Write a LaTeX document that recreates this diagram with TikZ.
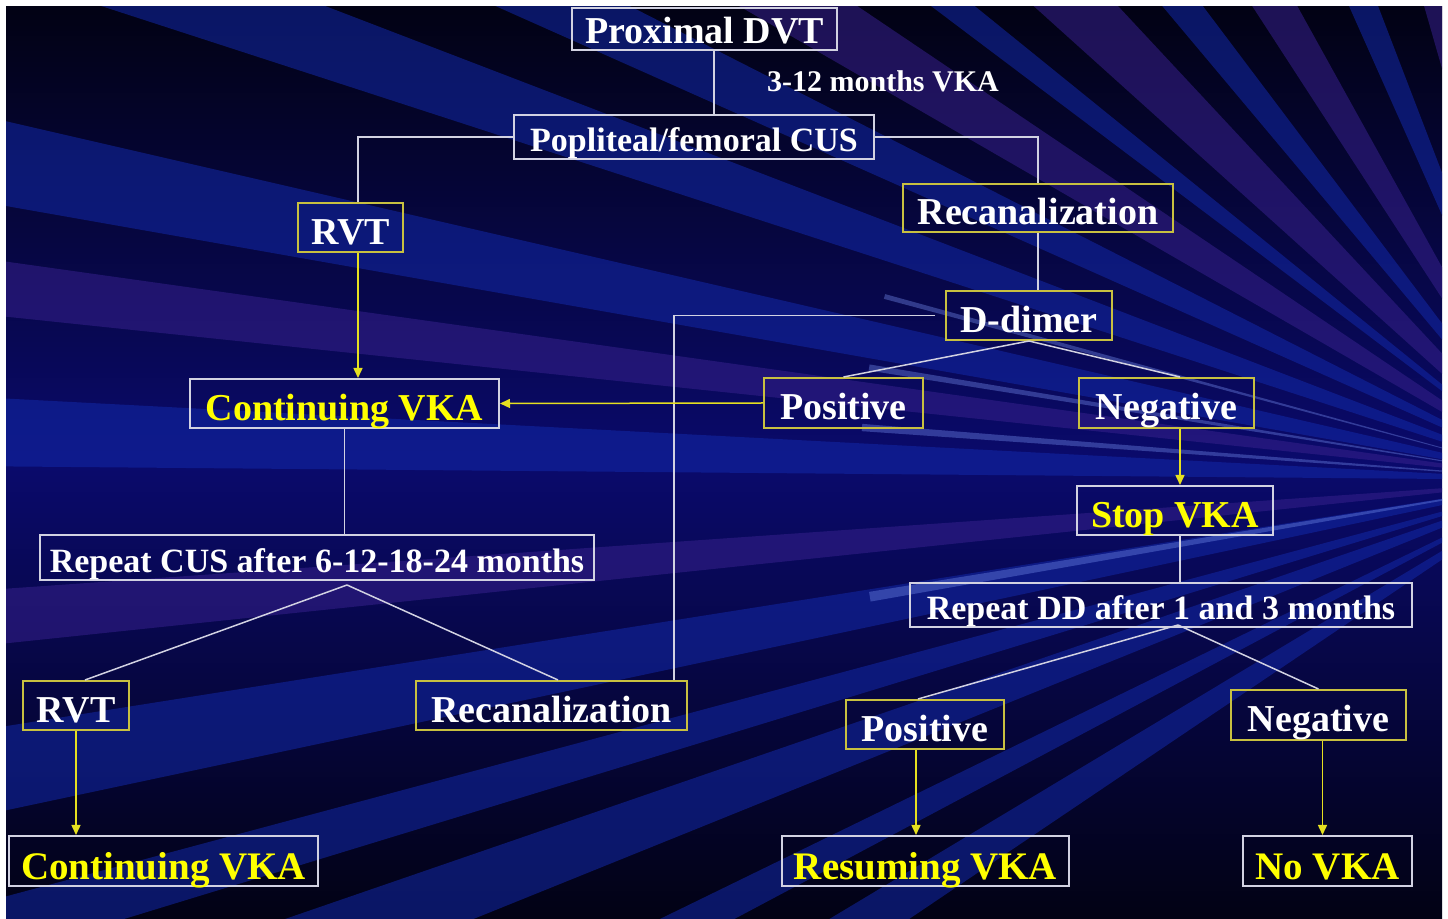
\documentclass[tikz,border=0pt]{standalone}
\usepackage{fontspec}
\setmainfont{Liberation Serif}
\usetikzlibrary{arrows.meta}

\definecolor{bgdark}{HTML}{020214}
\definecolor{bgmid}{HTML}{0A0A6C}
\definecolor{raysblue}{HTML}{1228A8}
\definecolor{rayspurple}{HTML}{36208C}
\definecolor{rayslight}{HTML}{7088E8}
\definecolor{boxwhite}{HTML}{D2D2E2}
\definecolor{boxyellow}{HTML}{C8C040}
\definecolor{txtyellow}{HTML}{FFFF00}
\definecolor{arryellow}{HTML}{E6E020}

\begin{document}
\begin{tikzpicture}[x=0.5pt,y=-0.5pt,
  wbox/.style={draw=boxwhite,line width=1pt,inner sep=0pt,text=white,
    text height=17pt,text depth=0pt,font=\bfseries\fontsize{19}{22}\selectfont},
  ybox/.style={wbox,draw=boxyellow},
  smalltext/.style={text height=15pt,font=\bfseries\fontsize{17}{20}\selectfont},
  lowrow/.style={text height=18pt,font=\bfseries\fontsize{19.5}{22}\selectfont},
  yellowtext/.style={text=txtyellow},
  wline/.style={draw=boxwhite,line width=0.75pt},
  yarrow/.style={draw=arryellow,line width=0.75pt,-{Triangle[length=5pt,width=4.5pt]}}]
\path[use as bounding box] (0,0) rectangle (1448,919);
\fill[white] (0,0) rectangle (1448,919);
% background with rays
\shade[top color=bgdark,bottom color=bgdark,middle color=bgmid] (6,7) rectangle (1442,919);
\begin{scope}
\clip (6,7) rectangle (1442,919);
\begin{scope}[shift={(1560,480)}]
\foreach \a/\b/\c in {198/201/raysblue,204/207/raysblue,210/214/rayspurple,
    217/219/raysblue,222/227/rayspurple,230/233/raysblue,237/241/rayspurple,
    246/249/raysblue,254/260/rayspurple,190/193/raysblue,186/188/rayspurple,
    180.5/183/raysblue,174/176/rayspurple,168/171/raysblue,163/165/raysblue,
    158/161/raysblue,152/154/raysblue,146/149/raysblue}
  \fill[\c,fill opacity=0.55] (0,0) -- (\a:2200) -- (\b:2200) -- cycle;
\foreach \a/\b in {184/184.6,189/189.5,170/170.8,195/195.4}
  \fill[rayslight,fill opacity=0.4] (0,0) -- (\a:700) -- (\b:700) -- cycle;
\end{scope}
\end{scope}

% boxes
\node[wbox,text height=15pt,minimum width=132.5pt,minimum height=21pt] (dvt) at (704.5,29) {Proximal DVT};
\node[text=white,font=\bfseries\fontsize{15}{18}\selectfont] (months) at (883,81) {3-12 months VKA};
\node[wbox,smalltext,minimum width=180pt,minimum height=22pt] (cus) at (694,137) {Popliteal/femoral CUS};
\node[ybox,minimum width=52.5pt,minimum height=24.5pt] (rvtA) at (350.5,227.5) {RVT};
\node[ybox,minimum width=135pt,minimum height=24pt] (recA) at (1038,208) {Recanalization};
\node[ybox,minimum width=83pt,minimum height=24.5pt] (dd) at (1029,315.5) {D-dimer};
\node[wbox,yellowtext,minimum width=154.5pt,minimum height=24.5pt] (contA) at (344.5,403.5) {Continuing VKA};
\node[ybox,minimum width=79.5pt,minimum height=25pt] (posA) at (843.5,403) {Positive};
\node[ybox,minimum width=87.5pt,minimum height=25pt] (negA) at (1166.5,403) {Negative};
\node[wbox,yellowtext,minimum width=98pt,minimum height=24.5pt] (stop) at (1175,510.5) {Stop VKA};
\node[wbox,smalltext,minimum width=277pt,minimum height=22.5pt] (rcus) at (317,557.5) {Repeat CUS after 6-12-18-24 months};
\node[wbox,smalltext,minimum width=251pt,minimum height=22pt] (rdd) at (1161,605) {Repeat DD after 1 and 3 months};
\node[ybox,minimum width=53pt,minimum height=24.5pt] (rvtB) at (76,705.5) {RVT};
\node[ybox,minimum width=135.5pt,minimum height=24.5pt] (recB) at (551.5,705.5) {Recanalization};
\node[ybox,minimum width=79pt,minimum height=24.5pt] (posB) at (925,724.5) {Positive};
\node[ybox,minimum width=87.5pt,minimum height=25pt] (negB) at (1318.5,715) {Negative};
\node[wbox,lowrow,yellowtext,minimum width=154.5pt,minimum height=25pt] (contB) at (163.5,861) {Continuing VKA};
\node[wbox,lowrow,yellowtext,minimum width=143.5pt,minimum height=25pt] (res) at (925.5,861) {Resuming VKA};
\node[wbox,lowrow,yellowtext,minimum width=84.5pt,minimum height=25pt] (novka) at (1327.5,861) {No VKA};

% forks
\coordinate (cusfork) at ([xshift=15pt,yshift=-2pt]rcus.south);
\coordinate (ddfork) at ([xshift=8.5pt,yshift=1.5pt]rdd.south);

% white connectors
\draw[wline] ([xshift=4.75pt]dvt.south) -- ([xshift=4.75pt]dvt.south |- cus.north);
\draw[wline] (cus.west) -| ([xshift=3.75pt]rvtA.north);
\draw[wline] (cus.east) -| (recA.north);
\draw[wline] (recA.south) -- (recA.south |- dd.north);
\draw[wline] ([xshift=-5pt]dd.west) -| ([xshift=-7pt]recB.north east);
\draw[wline] (dd.south) -- (posA.north);
\draw[wline] (dd.south) -- ([xshift=6.75pt]negA.north);
\draw[wline] (contA.south) -- (contA.south |- rcus.north);
\draw[wline] (cusfork) -- ([xshift=4.5pt]rvtB.north);
\draw[wline] (cusfork) -- ([xshift=3.25pt]recB.north);
\draw[wline] ([xshift=2.5pt]stop.south) -- ([xshift=2.5pt]stop.south |- rdd.north);
\draw[wline] (ddfork) -- ([xshift=-3.5pt]posB.north);
\draw[wline] (ddfork) -- (negB.north);

% yellow arrows
\draw[yarrow] ([xshift=3.75pt]rvtA.south) -- ([xshift=3.75pt]rvtA.south |- contA.north);
\draw[yarrow] (posA.west) -- (contA.east);
\draw[yarrow] ([xshift=6.75pt]negA.south) -- ([xshift=6.75pt]negA.south |- stop.north);
\draw[yarrow] (rvtB.south) -- (rvtB.south |- contB.north);
\draw[yarrow] ([xshift=-4.5pt]posB.south) -- ([xshift=-4.5pt]posB.south |- res.north);
\draw[yarrow] ([xshift=2pt]negB.south) -- ([xshift=2pt]negB.south |- novka.north);
\end{tikzpicture}
\end{document}
